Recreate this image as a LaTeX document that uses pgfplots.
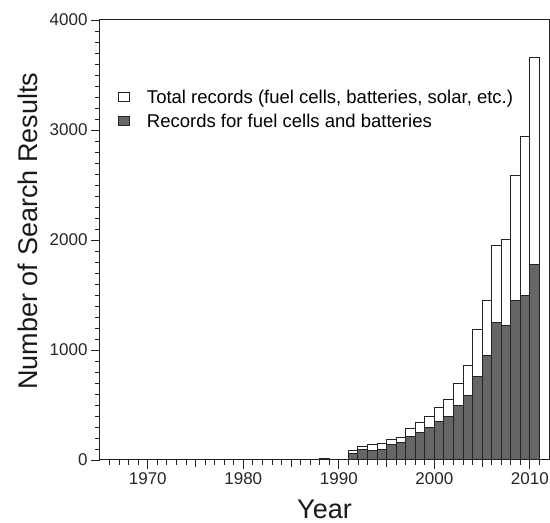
\documentclass[border=0pt]{standalone}
\usepackage{fontspec}
\setmainfont{Liberation Sans}
\usepackage{pgfplots}
\usepackage{pgfplotstable}
\pgfplotsset{compat=1.18}

\definecolor{barfill}{RGB}{102,102,102}
\definecolor{edge}{RGB}{35,35,35}

% Search results per year: all records and those on fuel cells and batteries
\pgfplotstableread{
year total fcb
1983 5    3
1987 6    5
1988 14   12
1989 6    5
1991 85   55
1992 121  91
1993 140  88
1994 149  94
1995 185  143
1996 209  158
1997 288  215
1998 337  252
1999 398  297
2000 476  346
2001 549  392
2002 698  492
2003 862  586
2004 1190 756
2005 1448 947
2006 1948 1250
2007 2009 1226
2008 2583 1448
2009 2944 1496
2010 3657 1775
}\records

\begin{document}
\begin{tikzpicture}
\begin{axis}[
  name=ax,
  width=449bp, height=440bp, scale only axis,
  xmin=1965, xmax=2012, ymin=0, ymax=4000,
  xtick={1970,1980,...,2010},
  minor xtick={1966,...,2011},
  extra x ticks={1975,1985,1995,2005},
  extra x tick labels={},
  extra x tick style={major tick length=7bp},
  ytick={0,1000,...,4000},
  minor y tick num=9,
  tick align=outside, tick pos=left,
  major tick length=9bp, minor tick length=5bp,
  axis line style={edge, line width=1bp},
  tick style={edge, line width=0.8bp},
  ticklabel style={font=\fontsize{17bp}{20bp}\selectfont, text=black!85},
  /pgf/number format/1000 sep={},
  /pgf/number format/assume math mode=true,
  xlabel={Year}, ylabel={Number of Search Results},
  label style={font=\fontsize{27bp}{32bp}\selectfont, text=black!90},
  ylabel style={at={(axis description cs:-0.16,0.52)}, anchor=center},
  xlabel style={at={(axis description cs:0.5,-0.112)}, anchor=center},
  legend style={font=\fontsize{18.5bp}{22bp}\selectfont, draw=none, fill=none,
    at={(rel axis cs:0.033,0.851)}, anchor=north west, row sep=5bp},
  legend cell align=left,
]
\addplot[ybar, bar width=1, bar shift=0pt, fill=white, draw=edge, line width=1bp,
  legend image code/.code={\draw[fill=white, draw=edge, line width=0.8bp] (0bp,-4.5bp) rectangle (11bp,4.5bp); \path (0bp,0bp) (26bp,0bp);}]
  table[x expr=\thisrow{year}+0.5, y=total] {\records};
\addlegendentry{Total records (fuel cells, batteries, solar, etc.)}
\addplot[ybar, bar width=1, bar shift=0pt, fill=barfill, draw=edge, line width=1bp,
  legend image code/.code={\draw[fill=barfill, draw=edge, line width=0.8bp] (0bp,-4.5bp) rectangle (11bp,4.5bp); \path (0bp,0bp) (26bp,0bp);}]
  table[x expr=\thisrow{year}+0.5, y=fcb] {\records};
\addlegendentry{Records for fuel cells and batteries}
\end{axis}
\pgfresetboundingbox
\path[use as bounding box] ([xshift=-100bp,yshift=-63bp]ax.south west) rectangle ([xshift=1bp,yshift=20bp]ax.north east);
\end{tikzpicture}
\end{document}
